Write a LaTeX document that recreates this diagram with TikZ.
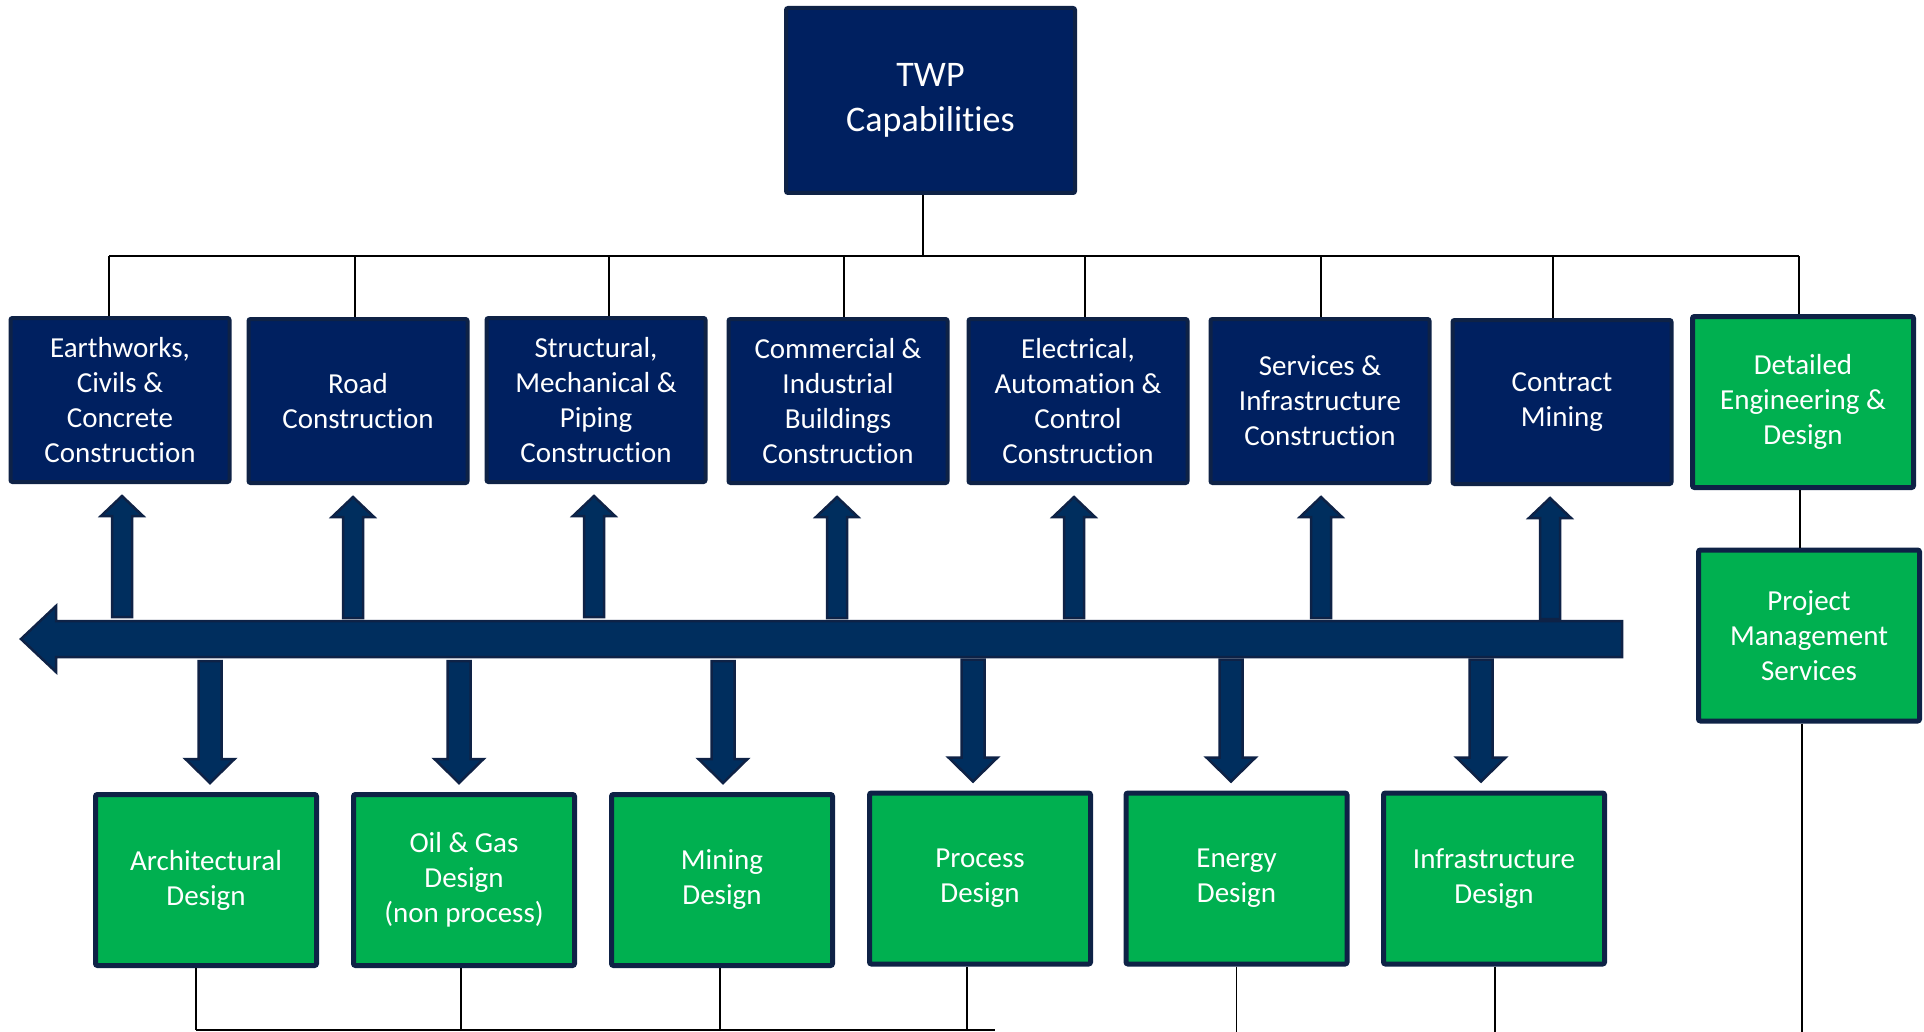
\documentclass[tikz,border=0pt]{standalone}
\usepackage{fontspec}
\setmainfont{Carlito}[Ligatures=NoCommon]
\definecolor{twpnavy}{RGB}{0,32,96}
\definecolor{twpedge}{RGB}{14,34,70}
\definecolor{twparrow}{RGB}{0,46,94}
\definecolor{twpgreen}{RGB}{0,176,80}

\begin{document}
\begin{tikzpicture}[x=1pt,y=-1pt,
        navybox/.style={rectangle,rounded corners=2pt,fill=twpnavy,draw=twpedge,line width=4pt,
            text=white,align=center,inner sep=0pt,minimum width=219pt,minimum height=164pt,
            font=\fontsize{29}{35}\selectfont},
        greenbox/.style={navybox,fill=twpgreen,line width=5pt,minimum width=221pt,minimum height=171pt},
        blockarrow/.style={fill=twparrow,draw=twpedge,line width=2.5pt,line join=miter},
        stem/.style={draw=black,line width=1.5pt}]
    \useasboundingbox (0,0) rectangle (1924,1032);
    \node[navybox,minimum width=289pt,minimum height=185pt,font=\fontsize{36}{45}\selectfont] (twp) at (930.5,100.5) {TWP\\Capabilities};
    \node[navybox] (ew) at (120,400) {Earthworks,\\Civils \&\\Concrete\\Construction};
    \node[navybox] (road) at (358,401) {Road\\Construction};
    \node[navybox] (struct) at (596,400) {Structural,\\Mechanical \&\\Piping\\Construction};
    \node[navybox] (comm) at (838,401) {Commercial \&\\Industrial\\Buildings\\Construction};
    \node[navybox] (elec) at (1078,401) {Electrical,\\Automation \&\\Control\\Construction};
    \node[navybox] (serv) at (1320,401) {Services \&\\Infrastructure\\Construction};
    \node[navybox] (mine) at (1562,402) {Contract\\Mining};
    \node[greenbox] (det) at (1803,402) {Detailed\\Engineering \&\\Design};
    \node[greenbox] (pm) at (1809,635.5) {Project\\Management\\Services};
    \node[greenbox] (arch) at (206,880) {Architectural\\Design};
    \node[greenbox] (oil) at (464,880) {Oil \& Gas\\Design\\(non process)};
    \node[greenbox] (mining) at (722,880) {Mining\\Design};
    \node[greenbox] (proc) at (980,878.5) {Process\\Design};
    \node[greenbox] (energy) at (1236.5,878.5) {Energy\\Design};
    \node[greenbox] (infra) at (1494,878.5) {Infrastructure\\Design};

    \coordinate (bus) at (0,256);
    \coordinate (base) at (0,1030);
    \coordinate (baseend) at (995,1030);
    \coordinate (floor) at (0,1034);
    \draw[stem] ([xshift=-7.5pt]twp.south) -- ([xshift=-7.5pt]twp.south |- bus);
    \draw[stem] ([xshift=-11pt]ew.north |- bus) -- ([xshift=-4pt]det.north |- bus);
    \foreach \n/\dx in {ew/-11,road/-3,struct/13,comm/6,elec/7,serv/1,mine/-9,det/-4}
        \draw[stem] ([xshift=\dx pt]\n.north |- bus) -- ([xshift=\dx pt]\n.north);
    \draw[stem] ([xshift=-3pt]det.south) -- ([xshift=-3pt]det.south |- pm.north);
    \foreach \n/\dx in {pm/-7,energy/0,infra/1}
        \draw[stem] ([xshift=\dx pt]\n.south) -- ([xshift=\dx pt]\n.south |- floor);
    \foreach \n/\dx in {arch/-10,oil/-3,mining/-2,proc/-13}
        \draw[stem] ([xshift=\dx pt]\n.south) -- ([xshift=\dx pt]\n.south |- base);
    \draw[stem] ([xshift=-10pt]arch.south |- base) -- (baseend);

    \filldraw[blockarrow] (1622,621) -- (56,621) -- (56,606) -- (21,639) -- (56,672) -- (56,657) -- (1622,657) -- cycle;
    \foreach \n/\dx in {ew/2,road/-5,struct/-2,comm/-1,elec/-4,serv/1,mine/-12}
        \filldraw[blockarrow] ([xshift=\dx pt]\n.south) ++(-10,133) -- ++(0,-101) -- ++(-11,0) -- ++(21,-20) -- ++(21,20) -- ++(-11,0) -- ++(0,101) -- cycle;
    \foreach \n/\dx in {arch/4,oil/-5,mining/1,proc/-7,energy/-5.5,infra/-13}
        \filldraw[blockarrow] ([xshift=\dx pt]\n.north) ++(-11.5,-131) -- ++(0,98) -- ++(-13,0) -- ++(24.5,24) -- ++(24.5,-24) -- ++(-13,0) -- ++(0,-98) -- cycle;
\end{tikzpicture}
\end{document}
